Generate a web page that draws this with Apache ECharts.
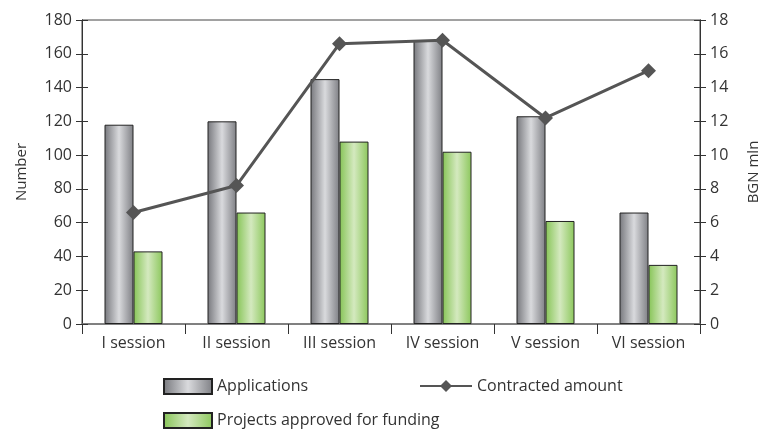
<!DOCTYPE html>
<html>
<head>
<meta charset="utf-8">
<script src="https://cdn.jsdelivr.net/npm/echarts@6/dist/echarts.min.js"></script>
<style>
  html, body { margin: 0; padding: 0; background: #fff; }
  #chart { width: 769px; height: 430px; }
</style>
</head>
<body>
<div id="chart"></div>
<script>
// sessions, counts on the left axis, amount on the right axis
const sessions = ['I session', 'II session', 'III session', 'IV session', 'V session', 'VI session']
const applications = [118, 120, 145, 168, 123, 66]
const approved = [43, 66, 108, 102, 61, 35]
const contracted = [6.6, 8.2, 16.6, 16.8, 12.2, 15.0]

const font = 'Open Sans'

const grayBar = new echarts.graphic.LinearGradient(0, 0, 1, 0, [
  { offset: 0, color: '#76777c' },
  { offset: 0.5, color: '#d9dadd' },
  { offset: 1, color: '#7e7f84' }
])
const greenBar = new echarts.graphic.LinearGradient(0, 0, 1, 0, [
  { offset: 0, color: '#86c456' },
  { offset: 0.5, color: '#d4e9bf' },
  { offset: 1, color: '#8cc75c' }
])

const chart = echarts.init(document.getElementById('chart'))

const tickAxis = (pos, inside, show) => ({
  type: 'value',
  position: pos,
  min: 0,
  max: pos === 'left' ? 180 : 18,
  interval: pos === 'left' ? 20 : 2,
  name: show ? (pos === 'left' ? 'Number' : 'BGN mln') : '',
  nameLocation: 'middle',
  nameRotate: 90,
  nameGap: pos === 'left' ? 53 : 46,
  nameTextStyle: { fontFamily: font, fontSize: 15, color: '#333' },
  axisLine: { show: true, lineStyle: { color: '#333', width: 1 } },
  axisTick: { show: true, inside: inside, length: 6, lineStyle: { color: '#333' } },
  axisLabel: { show: show, fontFamily: font, fontSize: 16, color: '#333', margin: 10 },
  splitLine: { show: false }
})

const legendText = { fontFamily: font, fontSize: 16, color: '#333' }

chart.setOption({
  animation: false,
  grid: { left: 82, right: 69, top: 20, bottom: 106, show: true, borderColor: '#444', borderWidth: 1 },
  legend: [
    {
      left: 158, top: 373, itemWidth: 48, itemHeight: 15, itemGap: 10,
      textStyle: legendText,
      data: [{ name: 'Applications', icon: 'rect' }]
    },
    {
      left: 414, top: 373, itemWidth: 52, itemHeight: 15,
      textStyle: legendText,
      data: ['Contracted amount']
    },
    {
      left: 158, top: 407, itemWidth: 48, itemHeight: 15,
      textStyle: legendText,
      data: [{ name: 'Projects approved for funding', icon: 'rect' }]
    }
  ],
  xAxis: {
    type: 'category',
    data: sessions,
    axisLine: { lineStyle: { color: '#777', width: 1.5 } },
    axisTick: { show: true, length: 10, lineStyle: { color: '#333' } },
    axisLabel: { fontFamily: font, fontSize: 16, color: '#333', margin: 11 }
  },
  yAxis: [
    tickAxis('left', false, true),
    tickAxis('right', false, true),
    tickAxis('left', true, false),
    tickAxis('right', true, false)
  ],
  series: [
    {
      name: 'Applications',
      type: 'bar',
      data: applications,
      barWidth: 29,
      barGap: '0%',
      itemStyle: { color: grayBar, borderColor: '#222', borderWidth: 1 }
    },
    {
      name: 'Projects approved for funding',
      type: 'bar',
      data: approved,
      barWidth: 29,
      barGap: '0%',
      itemStyle: { color: greenBar, borderColor: '#222', borderWidth: 1 }
    },
    {
      name: 'Contracted amount',
      type: 'line',
      yAxisIndex: 1,
      data: contracted,
      symbol: 'diamond',
      symbolSize: 15,
      lineStyle: { color: '#555', width: 3 },
      itemStyle: { color: '#555' }
    }
  ]
})
</script>
</body>
</html>
